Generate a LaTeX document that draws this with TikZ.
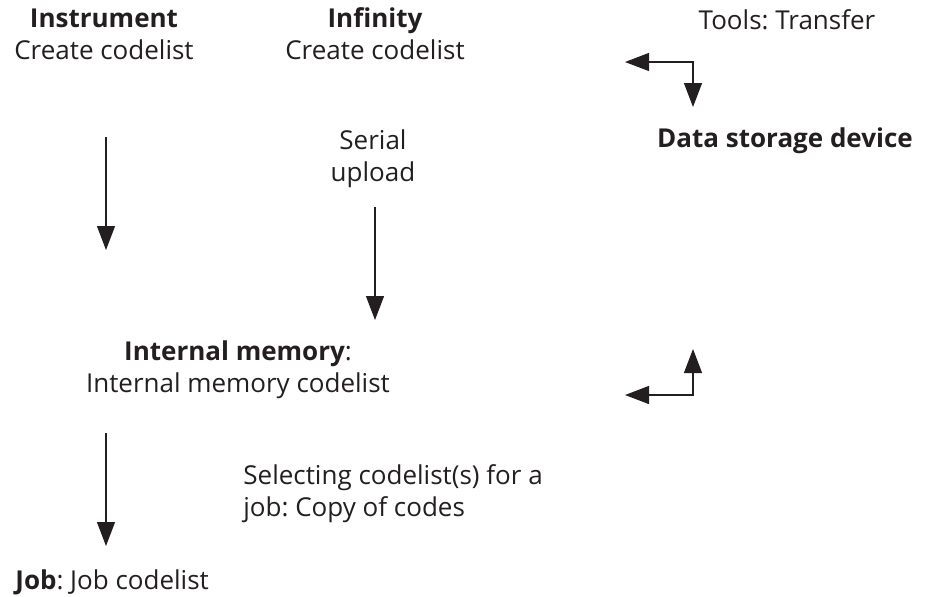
\documentclass[tikz,border=0pt]{standalone}
\usepackage{fontspec}
\setmainfont{Open Sans}
\usepackage{xcolor}
\usepackage{tikz}
\usetikzlibrary{arrows.meta}

\definecolor{ink}{HTML}{231F20}
\frenchspacing

\begin{document}
\begin{tikzpicture}[
    x=0.5pt, y=-0.5pt,
    font=\fontsize{13}{16}\selectfont,
    text=ink,
    lbl/.style={align=center, inner sep=0pt},
    lbll/.style={align=left, anchor=west, inner sep=0pt},
    arrow/.style={-{Triangle[length=12pt, width=9pt]}, line width=0.6pt, draw=ink},
    twoway/.style={{Triangle[length=12pt, width=9pt]}-{Triangle[length=12pt, width=9pt]}, line width=0.6pt, draw=ink}
]
\useasboundingbox (0,0) rectangle (930,596);

% --- sources of a codelist ---
\node[lbl] (instr) at (104,34)  {\textbf{Instrument}\\Create codelist};
\node[lbl] (infin) at (375,34)  {\textbf{Infinity}\\Create codelist};
\node[lbl] (tools) at (787,20)  {Tools: Transfer};
\node[lbl] (dsd)   at (785,141) {\textbf{Data storage device}};

% --- transfer to the instrument ---
\node[lbl] (serial) at (373,159) {Serial\\upload};

% --- memory and job ---
\node[lbl]  (intmem) at (238,370) {\textbf{Internal memory}:\\Internal memory codelist};
\node[lbll] (select) at (243,494) {Selecting codelist(s) for a\\job: Copy of codes};
\node[lbll] (job)    at (15,582)  {\textbf{Job}: Job codelist};

% free arrow ends
\coordinate (instrA) at (106,137);
\coordinate (instrB) at (106,250);
\coordinate (serialA) at (375,207);
\coordinate (serialB) at (375,320);
\coordinate (jobA) at (106,433);
\coordinate (jobB) at (106,546);
\coordinate (toolsL) at (625,62);
\coordinate (toolsD) at (693,107);
\coordinate (memL) at (625,395);
\coordinate (memU) at (693,349);

% arrows
\draw[arrow] (instrA) -- (instrB);
\draw[arrow] (serialA) -- (serialB);
\draw[arrow] (jobA) -- (jobB);
\draw[twoway] (toolsL) -| (toolsD);
\draw[twoway] (memL) -| (memU);

\end{tikzpicture}
\end{document}
